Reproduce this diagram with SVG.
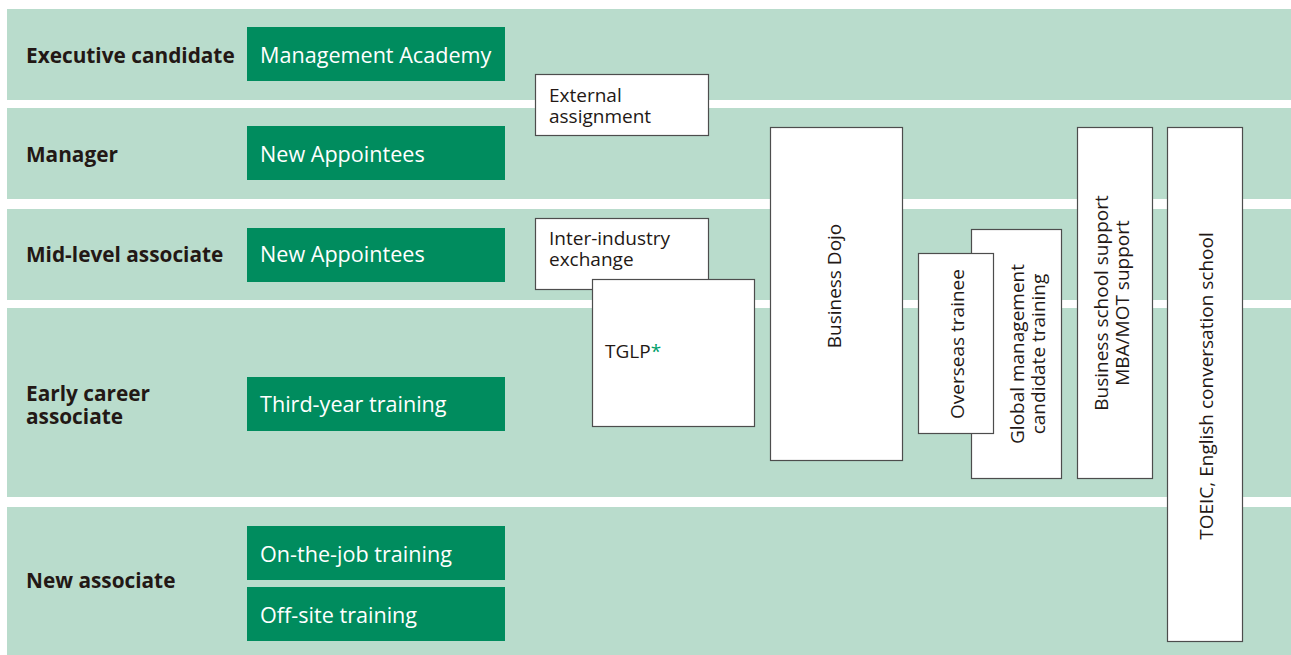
<svg xmlns="http://www.w3.org/2000/svg" width="1291" height="655" viewBox="0 0 1291 655">
  <style>
    .band { fill: #b9dccc; }
    .lvl { font-family: "Open Sans", "Noto Sans", sans-serif; font-weight: 700; font-size: 20.8px; fill: #231815; }
    .prog rect { fill: #008c5e; }
    .prog text { font-family: "Open Sans", "Noto Sans", sans-serif; font-size: 21.6px; fill: #ffffff; }
    .box rect { fill: #ffffff; stroke: #4d4d4d; stroke-width: 1.2; }
    .box text { font-family: "Open Sans", "Noto Sans", sans-serif; font-size: 19px; fill: #231815; }
    .ast { fill: #00a06a; }
  </style>

  <!-- grade bands -->
  <g id="bands">
    <rect class="band" x="7" y="9" width="1284" height="91"/>
    <rect class="band" x="7" y="108" width="1284" height="91"/>
    <rect class="band" x="7" y="209" width="1284" height="91"/>
    <rect class="band" x="7" y="308" width="1284" height="189"/>
    <rect class="band" x="7" y="507" width="1284" height="148"/>
  </g>

  <!-- grade labels -->
  <g id="level-executive"><text class="lvl" x="26" y="63">Executive candidate</text></g>
  <g id="level-manager"><text class="lvl" x="26" y="162">Manager</text></g>
  <g id="level-mid"><text class="lvl" x="26" y="262">Mid-level associate</text></g>
  <g id="level-early"><text class="lvl" x="26" y="401">Early career</text><text class="lvl" x="26" y="424">associate</text></g>
  <g id="level-new"><text class="lvl" x="26" y="588">New associate</text></g>

  <!-- grade-specific programmes -->
  <g id="prog-academy" class="prog"><rect x="247" y="27" width="258" height="54"/><text x="260" y="63">Management Academy</text></g>
  <g id="prog-appointees-mgr" class="prog"><rect x="247" y="126" width="258" height="54"/><text x="260" y="162">New Appointees</text></g>
  <g id="prog-appointees-mid" class="prog"><rect x="247" y="228" width="258" height="54"/><text x="260" y="262">New Appointees</text></g>
  <g id="prog-third-year" class="prog"><rect x="247" y="377" width="258" height="54"/><text x="260" y="412">Third-year training</text></g>
  <g id="prog-ojt" class="prog"><rect x="247" y="526" width="258" height="54"/><text x="260" y="562">On-the-job training</text></g>
  <g id="prog-offsite" class="prog"><rect x="247" y="587" width="258" height="54"/><text x="260" y="623">Off-site training</text></g>

  <!-- cross-grade programmes -->
  <g id="external" class="box"><rect x="535.5" y="74.5" width="173" height="61"/><text x="549" y="102">External</text><text x="549" y="123">assignment</text></g>
  <g id="inter-industry" class="box"><rect x="535.5" y="218.5" width="173" height="71"/><text x="549" y="245">Inter-industry</text><text x="549" y="266">exchange</text></g>
  <g id="tglp" class="box"><rect x="592.5" y="279.5" width="162" height="147"/><text x="605" y="358">TGLP<tspan class="ast">*</tspan></text></g>
  <g id="dojo" class="box"><rect x="770.5" y="127.5" width="132" height="333"/><text transform="translate(841 286) rotate(-90)" text-anchor="middle">Business Dojo</text></g>
  <g id="global-mgmt" class="box"><rect x="971.5" y="229.5" width="90" height="249"/><text transform="translate(1024 354) rotate(-90)" text-anchor="middle">Global management</text><text transform="translate(1045 354) rotate(-90)" text-anchor="middle">candidate training</text></g>
  <g id="overseas" class="box"><rect x="918.5" y="253.5" width="75" height="180"/><text transform="translate(964 344) rotate(-90)" text-anchor="middle">Overseas trainee</text></g>
  <g id="business-school" class="box"><rect x="1077.5" y="127.5" width="75" height="351"/><text transform="translate(1108 303) rotate(-90)" text-anchor="middle">Business school support</text><text transform="translate(1129 303) rotate(-90)" text-anchor="middle">MBA/MOT support</text></g>
  <g id="toeic" class="box"><rect x="1167.5" y="127.5" width="75" height="514"/><text transform="translate(1213 386) rotate(-90)" text-anchor="middle">TOEIC, English conversation school</text></g>

  <g id="connectors"/>
</svg>
